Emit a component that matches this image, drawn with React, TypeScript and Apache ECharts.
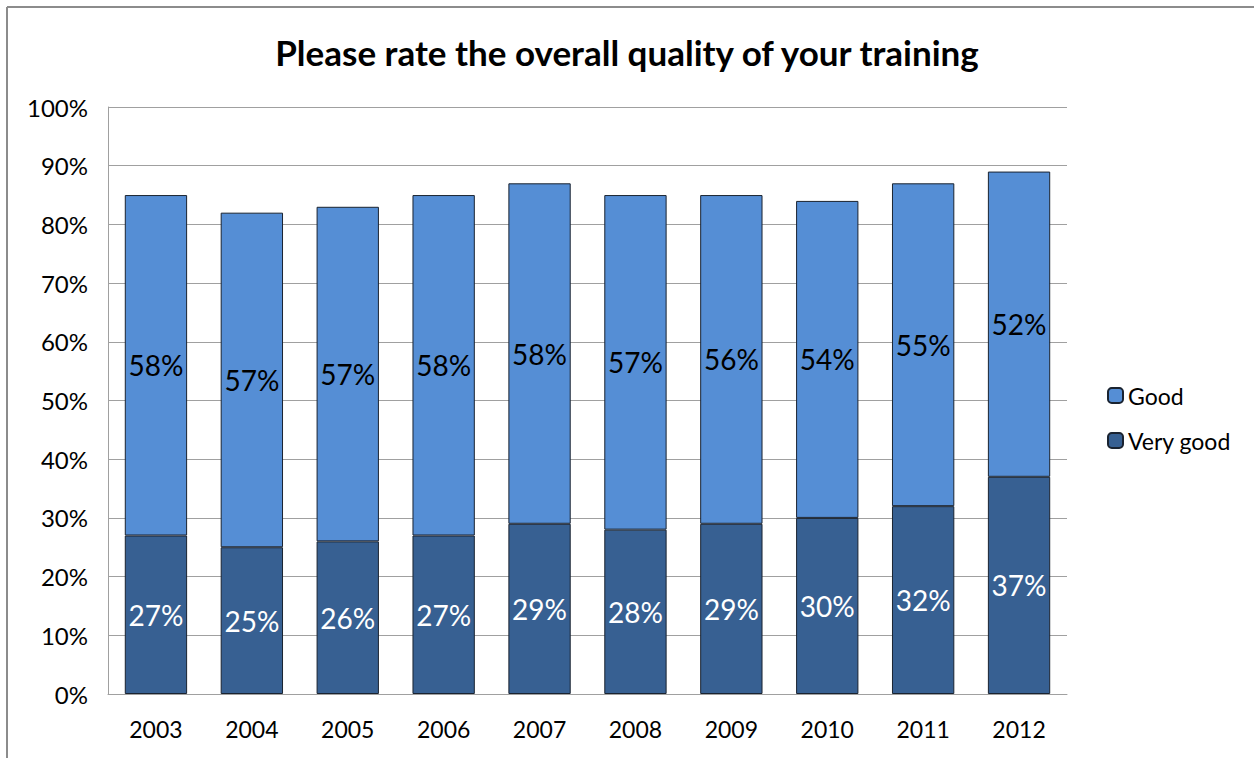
import React, { useEffect, useRef } from "react";
import * as echarts from "echarts";

const years = ["2003", "2004", "2005", "2006", "2007", "2008", "2009", "2010", "2011", "2012"];
const veryGood = [27, 25, 26, 27, 29, 28, 29, 30, 32, 37];
const good = [58, 57, 57, 58, 58, 57, 56, 54, 55, 52];
const yTicks = [0, 10, 20, 30, 40, 50, 60, 70, 80, 90, 100];

const FONT = "Lato, 'Open Sans', sans-serif";

export default function App() {
  const ref = useRef<HTMLDivElement>(null);
  useEffect(() => {
    if (!ref.current) return;
    const chart = echarts.init(ref.current, null, { renderer: "svg" });
    chart.setOption({
      animation: false,
      backgroundColor: "#ffffff",
      textStyle: { fontFamily: FONT },
      title: {
        text: "Please rate the overall quality of your training",
        left: "center",
        top: 29,
        textStyle: { fontSize: 35, fontWeight: "bold", color: "#000", fontFamily: FONT },
      },
      graphic: [
        { type: "line", shape: { x1: 7, y1: 7, x2: 1254, y2: 7 }, style: { stroke: "#8c8c8c", lineWidth: 2 } },
        { type: "line", shape: { x1: 7, y1: 7, x2: 7, y2: 758 }, style: { stroke: "#8c8c8c", lineWidth: 2 } },
      ],
      legend: {
        orient: "vertical",
        left: 1102,
        top: 379,
        itemWidth: 15,
        itemHeight: 15,
        itemGap: 22,
        data: ["Good", "Very good"],
        textStyle: { fontSize: 23, color: "#000", fontFamily: FONT },
      },
      grid: { left: 108, right: 187, top: 107, bottom: 64, containLabel: false },
      xAxis: {
        type: "category",
        data: years,
        axisLine: { lineStyle: { color: "#a0a0a0", width: 1 } },
        axisTick: { show: false },
        axisLabel: { fontSize: 23, color: "#000", margin: 23, fontFamily: FONT },
      },
      yAxis: {
        type: "value",
        min: yTicks[0],
        max: yTicks[yTicks.length - 1],
        interval: 10,
        axisLine: { show: true, lineStyle: { color: "#a0a0a0", width: 1 } },
        axisTick: { show: false },
        splitLine: { lineStyle: { color: "#a0a0a0", width: 1 } },
        axisLabel: { fontSize: 24, color: "#000", margin: 20, formatter: "{value}%", fontFamily: FONT },
      },
      series: [
        {
          name: "Very good",
          type: "bar",
          stack: "total",
          barWidth: "65%",
          data: veryGood,
          itemStyle: { color: "#376092", borderColor: "#1a2330", borderWidth: 1 },
          label: { show: true, position: "inside", formatter: "{c}%", fontSize: 28, color: "#fff", fontFamily: FONT },
        },
        {
          name: "Good",
          type: "bar",
          stack: "total",
          barWidth: "65%",
          data: good,
          itemStyle: { color: "#558ed5", borderColor: "#1a2330", borderWidth: 1 },
          label: { show: true, position: "inside", formatter: "{c}%", fontSize: 28, color: "#000", fontFamily: FONT },
        },
      ],
    });
    return () => chart.dispose();
  }, []);
  return <div ref={ref} style={{ position: "fixed", left: 0, top: 0, width: 1254, height: 758 }} />;
}
